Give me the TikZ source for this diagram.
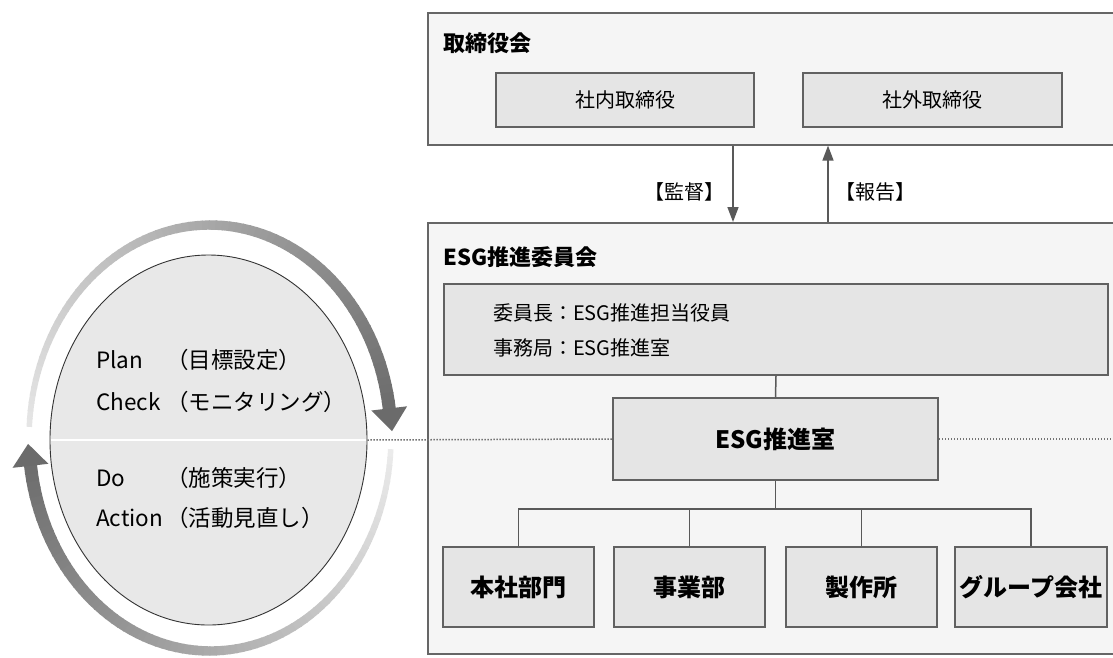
\documentclass[tikz,border=0pt]{standalone}
\usepackage{fontspec}
\setmainfont{Noto Sans CJK JP}
\usetikzlibrary{shapes.geometric,arrows.meta}
\tikzset{
  outerbox/.style={draw=black!60, line width=1.6pt, fill=black!4, inner sep=0pt},
  innerbox/.style={draw=black!62, line width=2pt, fill=black!10, inner sep=0pt},
  conn/.style={draw=black!65, line width=1.5pt},
  arr/.style={conn, -{Triangle[width=11pt,length=15pt]}},
  dotl/.style={draw=black!55, line width=1.5pt, dash pattern=on 1.4pt off 1.6pt},
  ttl/.style={anchor=west, inner sep=0pt, font=\fontsize{22}{26}\selectfont\bfseries},
  txt/.style={inner sep=0pt, font=\fontsize{20}{24}\selectfont},
  btxt/.style={inner sep=0pt, font=\fontsize{24}{28}\selectfont\bfseries},
  ctxt/.style={anchor=west, inner sep=0pt, font=\fontsize{22.5}{26}\selectfont},
  cyc/.style={fill=black!58, draw=none},
}
\begin{document}
\begin{tikzpicture}[x=1pt,y=-1pt]
\useasboundingbox (0,0) rectangle (1113,657);
\fill[white] (0,0) rectangle (1113,657);
\clip (0,0) rectangle (1113,657);

% ---- board of directors
\node[outerbox, anchor=north west, minimum width=700pt, minimum height=132pt] (tb) at (427,12) {};
\node[ttl] (tbt) at (443,43) {取締役会};
\node[innerbox, minimum width=258pt, minimum height=54pt, txt] (sn) at (625,100) {社内取締役};
\node[innerbox, minimum width=259pt, minimum height=54pt, txt] (sg) at (932.5,100) {社外取締役};

% ---- ESG committee
\node[outerbox, anchor=north west, minimum width=700pt, minimum height=431pt] (esg) at (427,222) {};
\node[ttl] (esgt) at (443,257) {ESG推進委員会};
\node[innerbox, anchor=north west, minimum width=664pt, minimum height=91pt] (iin) at (443,283) {};
\node[txt, anchor=west] (l1) at (493,313) {委員長：ESG推進担当役員};
\node[txt, anchor=west] (l2) at (493,348) {事務局：ESG推進室};
\node[innerbox, minimum width=325pt, minimum height=82pt, btxt] (office) at (775.5,439) {ESG推進室};

\node[innerbox, minimum width=151pt, minimum height=80pt, btxt] (b1) at (518.5,587) {本社部門};
\node[innerbox, minimum width=151pt, minimum height=80pt, btxt] (b2) at (689.5,587) {事業部};
\node[innerbox, minimum width=151pt, minimum height=80pt, btxt] (b3) at (861.5,587) {製作所};
\node[innerbox, minimum width=152pt, minimum height=80pt, btxt] (b4) at (1031,587) {グループ会社};

% ---- arrows between boards
\coordinate (kx) at (733,0);
\coordinate (hx) at (828,0);
\draw[arr] (tb.south -| kx) -- (esg.north -| kx);
\draw[arr] (esg.north -| hx) -- (tb.south -| hx);
\node[txt] (kan) at (684,192) {【監督】};
\node[txt] (hou) at (875,192) {【報告】};

% ---- org connectors
\coordinate (bus) at (775.5,509);
\draw[conn] (iin.south) -- (office.north);
\draw[conn] (office.south) -- (bus);
\draw[conn] (b1.north) |- (bus) -| (b4.north);
\draw[conn] (b2.north) -- (b2.north |- bus);
\draw[conn] (b3.north) -- (b3.north |- bus);

% ---- PDCA ellipse
\node[ellipse, draw=black!80, line width=0.9pt, fill=black!9, minimum width=317pt, minimum height=370pt, inner sep=0pt] (ell) at (208.5,440) {};
\draw[white, line width=1.6pt, shorten <=1pt, shorten >=1pt] (ell.west) -- (ell.east);
\node[ctxt] (p1) at (96,360) {Plan};
\node[ctxt] (p2) at (96,402) {Check};
\node[ctxt] (p3) at (96,478) {Do};
\node[ctxt] (p4) at (96,518) {Action};
\node[ctxt] (j1) at (166,360) {（目標設定）};
\node[ctxt] (j2) at (166,402) {（モニタリング）};
\node[ctxt] (j3) at (166,478) {（施策実行）};
\node[ctxt] (j4) at (166,518) {（活動見直し）};

\coordinate (dotend) at (1120,439);
\draw[dotl] (ell.east) -- (office.west);
\draw[dotl] (office.east) -- (dotend);

% ---- cycle arrows
\foreach \i in {0,...,79}{
  \pgfmathsetmacro\ta{177-\i*2.1125}
  \pgfmathsetmacro\tb{\ta-2.5}
  \pgfmathsetmacro\cc{10+\i*0.6}
  \pgfmathsetmacro\ww{5.5+\i*0.095}
  \draw[line width=\ww pt, draw=black!\cc] ({210+181*cos(\ta)},{438-213*sin(\ta)}) -- ({210+181*cos(\tb)},{438-213*sin(\tb)});
}
\fill[cyc] (407.1,406.3) -- (392,431.2) -- (371.3,410.5) -- cycle;
\foreach \i in {0,...,79}{
  \pgfmathsetmacro\ta{-3-\i*2.11875}
  \pgfmathsetmacro\tb{\ta-2.5}
  \pgfmathsetmacro\cc{8+\i*0.62}
  \pgfmathsetmacro\ww{5.5+\i*0.095}
  \draw[line width=\ww pt, draw=black!\cc] ({210+181*cos(\ta)},{438-213*sin(\ta)}) -- ({210+181*cos(\tb)},{438-213*sin(\tb)});
}
\fill[cyc] (48.4,463.8) -- (28.1,443.9) -- (12.6,467.8) -- cycle;
\end{tikzpicture}
\end{document}
